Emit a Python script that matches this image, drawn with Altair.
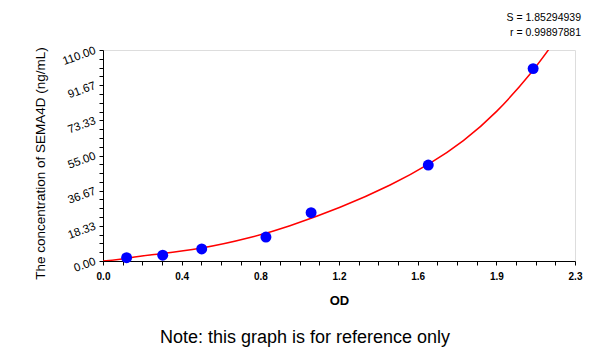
import altair as alt
import pandas as pd

# measured points
od = [0.115, 0.291, 0.481, 0.794, 1.014, 1.585, 2.096]
conc = [1.7, 3.0, 6.3, 12.5, 25.2, 50.0, 100.3]

# fitted curve
curve_x = [0.0, 0.083, 0.229, 0.473, 0.716, 0.911, 1.155, 1.399, 1.594, 1.756, 1.918, 2.081, 2.187]
curve_y = [0.0, 0.9, 3.1, 6.6, 12.2, 18.4, 28.0, 39.6, 51.0, 62.8, 78.0, 97.5, 112.5]

x_labels = ["0.0", "0.4", "0.8", "1.2", "1.6", "1.9", "2.3"]
y_labels = ["0.00", "18.33", "36.67", "55.00", "73.33", "91.67", "110.00"]
stats_lines = ["S = 1.85294939", "r = 0.99897881"]
note = ["Note: this graph is for reference only"]

x_max = 2.3
y_max = 110.0
x_ticks = [x_max * i / 24 for i in range(25)]
y_ticks = [y_max * i / 24 for i in range(25)]

pts = pd.DataFrame({"od": od, "conc": conc})
curve = pd.DataFrame({"od": curve_x, "conc": curve_y})
note_df = pd.DataFrame({"t": note})

FONT = "Liberation Sans"

x_label_expr = ("round(datum.value*24/2.3) % 4 == 0 ? "
                + str(x_labels) + "[round(round(datum.value*24/2.3)/4)] : ''")
y_label_expr = ("round(datum.value*24/110) % 4 == 0 ? "
                + str(y_labels) + "[round(round(datum.value*24/110)/4)] : ''")

x_enc = alt.X("od:Q",
              scale=alt.Scale(domain=[0, x_max], nice=False, zero=False),
              axis=alt.Axis(values=x_ticks, labelExpr=x_label_expr, grid=False,
                            title="OD", titleFont=FONT, titleFontSize=13,
                            titleFontWeight="bold", titleY=39, titleBaseline="middle",
                            labelFont=FONT, labelFontSize=10, labelFontWeight="bold",
                            labelColor="#000", labelPadding=6, tickSize=4,
                            tickColor="#000", domainColor="#000", labelFlush=False,
                            labelOverlap=False))
y_enc = alt.Y("conc:Q",
              scale=alt.Scale(domain=[0, y_max], nice=False, zero=False),
              axis=alt.Axis(values=y_ticks, labelExpr=y_label_expr, grid=False,
                            title="The concentration of SEMA4D (ng/mL)",
                            titleFont=FONT, titleFontSize=13.5, titleFontWeight="normal",
                            titleX=-63, titleY=113, titleAngle=270,
                            titleBaseline="middle", titleAlign="center",
                            labelFont=FONT, labelFontSize=11.5, labelAngle=340,
                            labelAlign="right", labelBaseline="middle",
                            labelColor="#000", labelPadding=4, tickSize=4,
                            tickColor="#000", domainColor="#000", labelFlush=False,
                            labelOverlap=False))

line = alt.Chart(curve).mark_line(color="#ff0000", strokeWidth=1.5, clip=True,
                                  interpolate="natural").encode(x=x_enc, y=y_enc)

dots = alt.Chart(pts).mark_point(filled=True, color="#0000ff", size=120,
                                 opacity=1, shape="circle").encode(x=x_enc, y=y_enc)

stat_layers = []
for i, s in enumerate(stats_lines):
    stat_layers.append(
        alt.Chart(pd.DataFrame({"t": [s]})).mark_text(
            align="right", baseline="middle", font=FONT, fontSize=10.5,
            color="#000").encode(x=alt.value(478), y=alt.value(-32 + 15 * i), text="t:N"))

note_text = alt.Chart(note_df).mark_text(align="center", baseline="middle",
                                         font=FONT, fontSize=18, color="#000").encode(
    x=alt.value(202), y=alt.value(288), text="t:N")

chart = alt.layer(line, dots, *stat_layers, note_text).properties(
    width=472, height=211,
    autosize=alt.AutoSizeParams(type="none"),
    padding={"left": 103, "top": 50, "right": 25, "bottom": 93},
).configure_view(stroke="#b0b0b0", strokeWidth=1).configure_axis(
    labelOverlap=False).configure(background="white")

chart.save("out.html", embed_options={"renderer": "svg", "actions": False})
